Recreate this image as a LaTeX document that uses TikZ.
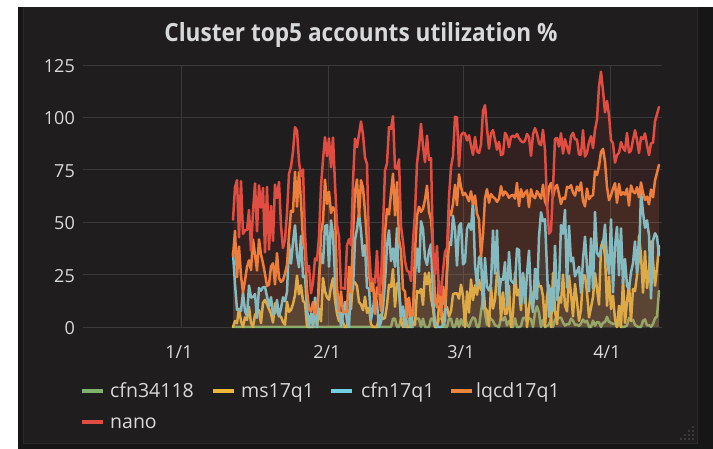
\documentclass[tikz,border=0pt]{standalone}
\usepackage{graphicx}
\usepackage{fontspec}
\setmainfont{Open Sans}
\definecolor{pagewhite}{HTML}{FFFFFF}
\definecolor{outerbg}{HTML}{161616}
\definecolor{panelbg}{HTML}{1F1D1D}
\definecolor{panelrim}{HTML}{2A2A2A}
\definecolor{gridc}{HTML}{3A3A3A}
\definecolor{txt}{HTML}{D8D9DA}
\definecolor{cgreen}{HTML}{7EB26D}
\definecolor{cyellow}{HTML}{EAB839}
\definecolor{ccyan}{HTML}{6ED0E0}
\definecolor{corange}{HTML}{EF843C}
\definecolor{cred}{HTML}{E24D42}

% Build a series as a "--" path: x runs over the time axis in 2px steps,
% the expression #2 (in \xx) gives the value in percent.
\newcommand\mkseries[2]{%
  \gdef#1{}%
  \foreach \i in {0,...,213}{%
    \pgfmathsetmacro\xx{233+2*\i}%
    \pgfmathsetmacro\vv{327-2.096*min(125,max(0,#2))}%
    \ifnum\i=0 \xdef#1{(\xx,\vv)}\else\xdef#1{#1 -- (\xx,\vv)}\fi
  }%
}
% Draw one series: light area under the curve, then the line itself.
\newcommand\drawseries[2]{%
  \edef\tmppath{\noexpand\fill[#2, fill opacity=0.1] (233,327) -- #1 -- (659,327) -- cycle;}\tmppath
  \edef\tmppath{\noexpand\draw[serline, #2] #1;}\tmppath
}

\tikzset{
  serline/.style={line width=2.5pt, line join=round, line cap=round},
  gridline/.style={gridc, line width=0.8pt},
  axislbl/.style={text=txt, font=\fontsize{18}{18}\selectfont, inner sep=0pt},
  legtxt/.style={text=txt, font=\fontsize{19.5}{19.5}\selectfont, inner sep=0pt, anchor=base west},
  legdash/.style={line width=4pt},
}

\begin{document}
\begin{tikzpicture}[x=1pt, y=-1pt,
  declare function={
    wk(\x)=tanh(2*sin(11.25*(\x-288)));
    tri(\x,\c,\w)=max(0,1-abs(\x-\c)/\w);
  }]
\useasboundingbox (0,0) rectangle (713,449);
\fill[pagewhite] (0,0) rectangle (713,449);
\fill[outerbg] (18,7) rectangle (713,449);
\fill[panelbg] (23,7) rectangle (697,443);
\draw[panelrim, line width=1pt] (23,7) -- (23,443) -- (697,443) -- (697,7);

% resize handle
\foreach \px/\py in {693/439,689/439,685/439,681/439,693/435,689/435,685/435,693/431,689/431,693/427}
  \fill[gray!70!black] (\px,\py) circle (0.9);

% title
\node[text=txt, font=\fontsize{25}{25}\selectfont\bfseries, inner sep=0pt, anchor=base] (title) at (361,41.7)
  {\scalebox{0.905}[1]{Cluster top5 accounts utilization \%}};

% grid
\foreach \v in {0,25,...,125}
  \draw[gridline] (83,{327-2.096*\v}) -- (662,{327-2.096*\v});
\foreach \gx in {181,328,463,610}
  \draw[gridline] (\gx,65) -- (\gx,327);

% y axis labels
\foreach \v in {0,25,...,125}
  \node[axislbl, anchor=base east] (y\v) at (75,{334.5-2.096*\v}) {\v};

% x axis labels
\node[axislbl, anchor=base] (x1) at (179,359) {1/1};
\node[axislbl, anchor=base] (x2) at (327,359) {2/1};
\node[axislbl, anchor=base] (x3) at (461,359) {3/1};
\node[axislbl, anchor=base] (x4) at (607,359) {4/1};

% data series
\pgfmathsetseed{11}
\mkseries\sgreen{(\xx>390)*(\xx<460)*4*(rand>0.1) + (\xx>=460)*(2+3*rand+12*tri(\xx,483,3)+10*tri(\xx,537,3)+13*tri(\xx,659,3))}
\pgfmathsetseed{23}
\mkseries\syellow{(\xx<285)*(6+8*rand) + (\xx>=285)*(\xx<460)*(9+9*wk(\xx)+10*rand) + (\xx>=460)*(12+14*rand+28*tri(\xx,602,5)+18*(\xx>632))}
\pgfmathsetseed{37}
\mkseries\scyan{(\xx<285)*(10+10*rand+18*tri(\xx,233,5)) + (\xx>=285)*(\xx<460)*(22+20*wk(\xx)+13*rand) + (\xx>=460)*(28+22*rand+10*sin(14.4*(\xx-460))+15*tri(\xx,472,15)+45*tri(\xx,602,5)+15*(\xx>630))}
\pgfmathsetseed{41}
\mkseries\sorange{(\xx<285)*(28+14*rand+12*tri(\xx,233,4)) + (\xx>=285)*(\xx<460)*(38+26*wk(\xx)+12*rand) + (\xx>=460)*(63+6*rand-25*tri(\xx,481,5)+26*tri(\xx,601,8)+12*tri(\xx,659,5))}
\pgfmathsetseed{53}
\mkseries\sred{(\xx<285)*(53+18*rand) + (\xx>=285)*(\xx<460)*(58+32*wk(\xx)+12*rand) + (\xx>=460)*(88+7*rand+20*tri(\xx,484,4)+30*tri(\xx,602,10)-58*tri(\xx,550,5)-12*tri(\xx,617,6)+14*tri(\xx,659,6))}

\drawseries\sgreen{cgreen}
\drawseries\syellow{cyellow}
\drawseries\scyan{ccyan}
\drawseries\sorange{corange}
\drawseries\sred{cred}

% legend
\coordinate (lg1a) at (82,391);  \coordinate (lg1b) at (103,391);
\coordinate (lg2a) at (213,391); \coordinate (lg2b) at (234,391);
\coordinate (lg3a) at (331,391); \coordinate (lg3b) at (352,391);
\coordinate (lg4a) at (451,391); \coordinate (lg4b) at (472,391);
\coordinate (lg5a) at (82,422);  \coordinate (lg5b) at (103,422);
\draw[legdash, cgreen] (lg1a) -- (lg1b);
\draw[legdash, cyellow] (lg2a) -- (lg2b);
\draw[legdash, ccyan] (lg3a) -- (lg3b);
\draw[legdash, corange] (lg4a) -- (lg4b);
\draw[legdash, cred] (lg5a) -- (lg5b);
\node[legtxt] (l1) at (110,397.5) {cfn34118};
\node[legtxt] (l2) at (241,397.5) {ms17q1};
\node[legtxt] (l3) at (361,397.5) {cfn17q1};
\node[legtxt] (l4) at (476,397.5) {lqcd17q1};
\node[legtxt] (l5) at (110,428.5) {nano};
\end{tikzpicture}
\end{document}
